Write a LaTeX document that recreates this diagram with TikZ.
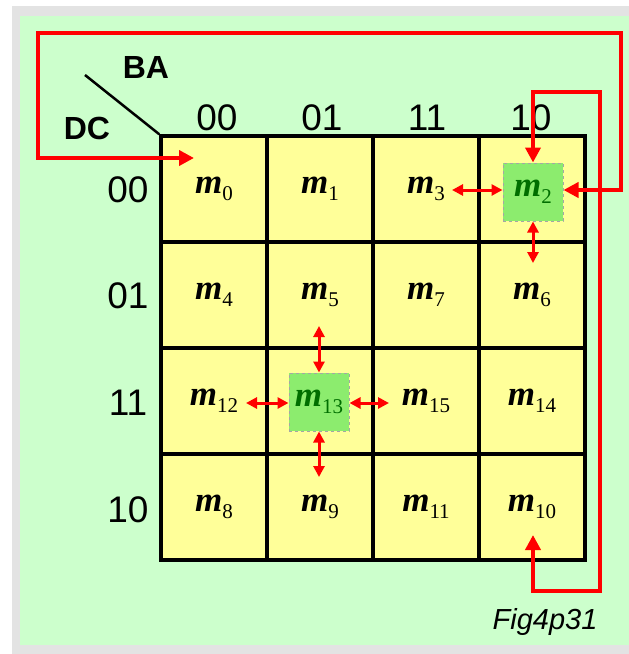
\documentclass[tikz,border=0pt]{standalone}
\usepackage{fontspec}
\setmainfont{Liberation Sans}
\newfontfamily\mserif{Liberation Serif}
\usetikzlibrary{arrows.meta}
\definecolor{bgreen}{RGB}{204,255,204}
\definecolor{cellyel}{RGB}{255,255,153}
\definecolor{hlgreen}{RGB}{140,236,110}
\definecolor{hltext}{RGB}{0,110,0}
\definecolor{kred}{RGB}{255,0,0}
\tikzset{
  cell/.style={draw=black, line width=3.5pt, fill=cellyel, minimum width=106pt, minimum height=106pt, inner sep=0pt},
  hlbox/.style={fill=hlgreen, draw=gray!70, dashed, line width=1pt, minimum width=60pt, minimum height=58pt, inner sep=0pt, text=hltext},
  axlab/.style={font=\fontsize{37}{37}\selectfont, inner sep=0pt},
  varlab/.style={font=\bfseries\fontsize{32}{32}\selectfont, inner sep=0pt},
  redpath/.style={draw=kred, line width=4.8pt, line join=miter, {Triangle[length=15pt,width=15pt]}-{Triangle[length=15pt,width=15pt]}},
  dbl/.style={draw=kred, line width=3pt, {Triangle[length=11pt,width=11pt]}-{Triangle[length=11pt,width=11pt]}},
}
\newcommand{\mm}[1]{{\mserif\fontsize{35}{35}\selectfont\bfseries\itshape m\raisebox{-7pt}{\fontsize{21}{21}\selectfont\mdseries\upshape #1}}}
\begin{document}
\begin{tikzpicture}[x=1pt,y=-1pt]
\useasboundingbox (0,0) rectangle (629,654);
\fill[white] (0,0) rectangle (629,654);
\fill[gray!22] (12,6) rectangle (629,654);
\fill[bgreen] (20,16) rectangle (629,645);
% cells
\node[cell] (c00) at (214,189) {\mm{0}};
\node[cell] (c01) at (320,189) {\mm{1}};
\node[cell] (c02) at (426,189) {\mm{3}};
\node[cell] (c03) at (532,189) {};
\node[cell] (c10) at (214,295) {\mm{4}};
\node[cell] (c11) at (320,295) {\mm{5}};
\node[cell] (c12) at (426,295) {\mm{7}};
\node[cell] (c13) at (532,295) {\mm{6}};
\node[cell] (c20) at (214,401) {\mm{12}};
\node[cell] (c21) at (320,401) {};
\node[cell] (c22) at (426,401) {\mm{15}};
\node[cell] (c23) at (532,401) {\mm{14}};
\node[cell] (c30) at (214,507) {\mm{8}};
\node[cell] (c31) at (320,507) {\mm{9}};
\node[cell] (c32) at (426,507) {\mm{11}};
\node[cell] (c33) at (532,507) {\mm{10}};
% highlighted minterms
\node[hlbox] (b2) at (533,192) {\mm{2}};
\node[hlbox] (b13) at (319,402) {\mm{13}};
% axis labels
\node[axlab] (ca) at (217,118) {00};
\node[axlab] (cb) at (322,118) {01};
\node[axlab] (cc) at (427,118) {11};
\node[axlab] (cd) at (531,118) {10};
\node[axlab] (ra) at (128,190) {00};
\node[axlab] (rb) at (128,296) {01};
\node[axlab] (rc) at (128,403) {11};
\node[axlab] (rd) at (128,510) {10};
\node[varlab] (ba) at (146,67) {BA};
\node[varlab] (dc) at (87,128) {DC};
\coordinate (dg) at (85,75);
\draw[line width=2.5pt] (dg) -- (c00.north west);
% adjacency arrows
\coordinate (a3) at (452,190);
\coordinate (a6) at (533,263);
\coordinate (a12) at (246,403);
\coordinate (a15) at (389,403);
\coordinate (a5) at (319,326);
\coordinate (a9) at (319,477);
\draw[dbl] (a3) -- (a3 -| b2.west);
\draw[dbl] (b2.south) -- (a6);
\draw[dbl] (a12) -- (a12 -| b13.west);
\draw[dbl] (a15 -| b13.east) -- (a15);
\draw[dbl] (a5) -- (b13.north);
\draw[dbl] (b13.south) -- (a9);
% wrap-around paths
\coordinate (t0) at (194,158);
\coordinate (p1) at (38,158);
\coordinate (p2) at (38,33);
\coordinate (p3) at (621,33);
\coordinate (p4) at (621,190);
\draw[redpath] (t0) -- (p1) -- (p2) -- (p3) -- (p4) -- (p4 -| b2.east);
\coordinate (q1) at (533,92);
\coordinate (q2) at (600,92);
\coordinate (q3) at (600,591);
\coordinate (q4) at (533,591);
\coordinate (t10) at (533,535);
\draw[redpath] (b2.north) -- (q1) -- (q2) -- (q3) -- (q4) -- (t10);
\node[font=\itshape\fontsize{29}{29}\selectfont, inner sep=0pt] (fig) at (545,622) {Fig4p31};
\end{tikzpicture}
\end{document}
